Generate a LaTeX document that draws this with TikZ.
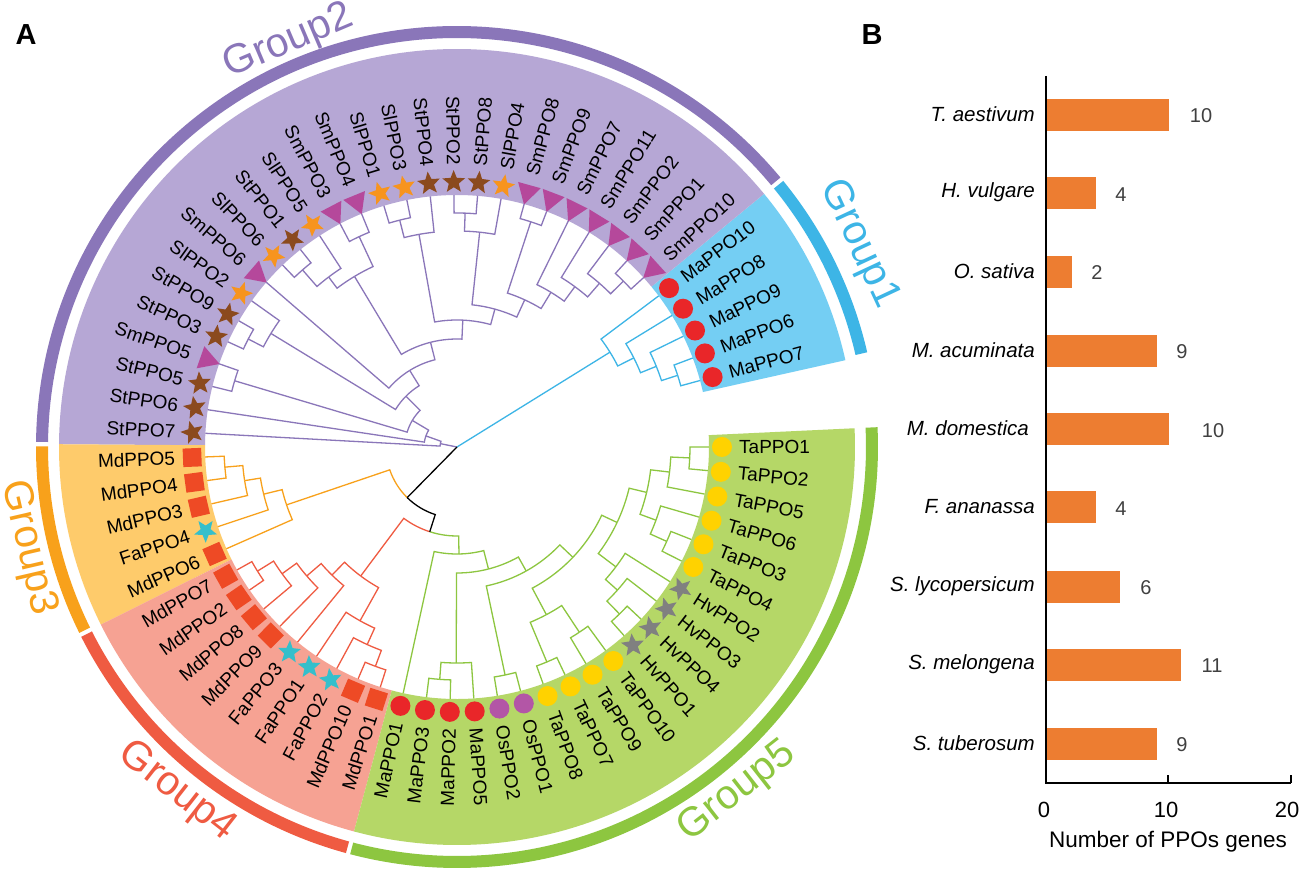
\documentclass[tikz,border=0pt]{standalone}
\usepackage{fontspec}
\newfontfamily\arl{Liberation Sans}
\usetikzlibrary{shapes.geometric}
\definecolor{cPur}{HTML}{8A76B9}
\definecolor{cBlu}{HTML}{3DB5E6}
\definecolor{cOra}{HTML}{F8A11B}
\definecolor{cRed}{HTML}{EF5B42}
\definecolor{cGrn}{HTML}{8DC640}
\definecolor{sPur}{HTML}{B6A7D5}
\definecolor{sBlu}{HTML}{74CEF3}
\definecolor{sOra}{HTML}{FECB6B}
\definecolor{sRed}{HTML}{F6A293}
\definecolor{sGrn}{HTML}{B5D767}
\definecolor{mRed}{HTML}{E92629}
\definecolor{mMag}{HTML}{B5489B}
\definecolor{mBrn}{HTML}{8B4A1E}
\definecolor{mOrS}{HTML}{F7941E}
\definecolor{mSq}{HTML}{EE4A25}
\definecolor{mCya}{HTML}{35BFCB}
\definecolor{mOsP}{HTML}{B356A6}
\definecolor{mYel}{HTML}{FFD200}
\definecolor{mGry}{HTML}{808080}
\definecolor{barO}{HTML}{ED7D31}
\definecolor{valG}{HTML}{404040}
\tikzset{
  br/.style={line width=1.3pt},
  lbl/.style={font=\arl\fontsize{19}{19}\selectfont, inner sep=0pt, text=black},
  mk/.style={inner sep=0pt, draw=none},
  cR/.style={mk, circle, fill=mRed, minimum size=20pt},
  cP/.style={mk, circle, fill=mOsP, minimum size=20pt},
  cY/.style={mk, circle, fill=mYel, minimum size=20pt},
  sq/.style={mk, rectangle, fill=mSq, minimum size=18.5pt, rotate=\lfang},
  tri/.style={mk, regular polygon, regular polygon sides=3, fill=mMag, minimum size=27pt, rotate=\lfang+90},
  stB/.style={mk, star, star points=5, star point ratio=2.3, fill=mBrn, minimum size=24pt, rotate=\lfang-90},
  stO/.style={stB, fill=mOrS},
  stC/.style={stB, fill=mCya},
  stG/.style={stB, fill=mGry},
  glab/.style={font=\arl\fontsize{41}{41}\selectfont, inner sep=0pt},
  panel/.style={font=\arl\bfseries\fontsize{29}{29}\selectfont, inner sep=0pt},
  axisln/.style={line width=1.8pt, black},
  barn/.style={fill=barO, draw=none, inner sep=0pt, minimum height=32pt, anchor=west},
  valn/.style={font=\arl\fontsize{20}{20}\selectfont, text=valG, inner sep=0pt},
  spcn/.style={font=\arl\itshape\fontsize{20.5}{20.5}\selectfont, inner sep=0pt, anchor=east},
  tickn/.style={font=\arl\fontsize{22}{22}\selectfont, inner sep=0pt},
}
\newcommand\tleaf[3]{%
  \pgfmathsetmacro\lfang{15.3+5.386*#2}%
  \expandafter\xdef\csname nA#1\endcsname{\lfang}%
  \expandafter\xdef\csname nR#1\endcsname{252}%
  \coordinate (#1) at (\lfang:252pt);%
  \node[#3] (m#1) at (\lfang:265pt) {};%
  \pgfmathtruncatemacro\lflip{(\lfang>90)*(\lfang<270)}%
  \ifnum\lflip=1
    \node[lbl, anchor=east, rotate=\lfang-180] (t#1) at (\lfang:282pt) {#1};%
  \else
    \node[lbl, anchor=west, rotate=\lfang] (t#1) at (\lfang:282pt) {#1};%
  \fi}
\newcommand\tbr[3]{\draw[br,#1] (#2) arc[start angle=\csname nA#2\endcsname, end angle=\csname nA#3\endcsname, radius=\csname nR#2\endcsname pt] -- (#3);}
\newcommand\tcl[5]{%
  \pgfmathsetmacro\tmpang{(\csname nA#4\endcsname+\csname nA#5\endcsname)/2}%
  \expandafter\xdef\csname nA#1\endcsname{\tmpang}%
  \expandafter\xdef\csname nR#1\endcsname{#2}%
  \coordinate (#1) at (\tmpang:#2pt);%
  \tbr{#3}{#1}{#4}\tbr{#3}{#1}{#5}}
\newcommand\tclx[6]{%
  \pgfmathsetmacro\tmpang{(\csname nA#4\endcsname+\csname nA#6\endcsname)/2}%
  \expandafter\xdef\csname nA#1\endcsname{\tmpang}%
  \expandafter\xdef\csname nR#1\endcsname{#2}%
  \coordinate (#1) at (\tmpang:#2pt);%
  \tbr{#3}{#1}{#4}\tbr{#5}{#1}{#6}}
\newcommand\tsector[3]{\fill[#1] (#2:252pt) arc[start angle=#2, end angle=#3, radius=252pt] -- (#3:398pt) arc[start angle=#3, end angle=#2, radius=398pt] -- cycle;}
\newcommand\tring[3]{\fill[#1] (#2:409pt) arc[start angle=#2, end angle=#3, radius=409pt] -- (#3:421pt) arc[start angle=#3, end angle=#2, radius=421pt] -- cycle;}
\begin{document}
\begin{tikzpicture}[x=1pt,y=1pt]
\path[use as bounding box, fill=white] (-457,-423) rectangle (842,447);
\coordinate (root) at (0,0);
% sectors
\tsector{sBlu}{12.6}{39.5}
\tsector{sPur}{39.5}{179.6}
\tsector{sOra}{179.6}{206.5}
\tsector{sRed}{206.5}{255.0}
\tsector{sGrn}{255.0}{362.7}
% rings
\tring{cBlu}{13.0}{39.2}
\tring{cPur}{39.8}{179.3}
\tring{cOra}{179.9}{206.2}
\tring{cRed}{206.8}{254.7}
\tring{cGrn}{255.3}{362.7}
% group labels
\node[glab, text=cBlu, rotate=-65] (lg1) at (402,203) {Group1};
\node[glab, text=cPur, rotate=23] (lg2) at (-168,405) {Group2};
\node[glab, text=cOra, rotate=-77] (lg3) at (-429,-101) {Group3};
\node[glab, text=cRed, rotate=-38] (lg4) at (-280,-345) {Group4};
\node[glab, text=cGrn, rotate=38] (lg5) at (280,-345) {Group5};
% leaves
\tleaf{MaPPO7}{0}{cR}
\tleaf{MaPPO6}{1}{cR}
\tleaf{MaPPO9}{2}{cR}
\tleaf{MaPPO8}{3}{cR}
\tleaf{MaPPO10}{4}{cR}
\tleaf{SmPPO10}{5}{tri}
\tleaf{SmPPO1}{6}{tri}
\tleaf{SmPPO2}{7}{tri}
\tleaf{SmPPO11}{8}{tri}
\tleaf{SmPPO7}{9}{tri}
\tleaf{SmPPO9}{10}{tri}
\tleaf{SmPPO8}{11}{tri}
\tleaf{SlPPO4}{12}{stO}
\tleaf{StPPO8}{13}{stB}
\tleaf{StPPO2}{14}{stB}
\tleaf{StPPO4}{15}{stB}
\tleaf{SlPPO3}{16}{stO}
\tleaf{SlPPO1}{17}{stO}
\tleaf{SmPPO4}{18}{tri}
\tleaf{SmPPO3}{19}{tri}
\tleaf{SlPPO5}{20}{stO}
\tleaf{StPPO1}{21}{stB}
\tleaf{SlPPO6}{22}{stO}
\tleaf{SmPPO6}{23}{tri}
\tleaf{SlPPO2}{24}{stO}
\tleaf{StPPO9}{25}{stB}
\tleaf{StPPO3}{26}{stB}
\tleaf{SmPPO5}{27}{tri}
\tleaf{StPPO5}{28}{stB}
\tleaf{StPPO6}{29}{stB}
\tleaf{StPPO7}{30}{stB}
\tleaf{MdPPO5}{31}{sq}
\tleaf{MdPPO4}{32}{sq}
\tleaf{MdPPO3}{33}{sq}
\tleaf{FaPPO4}{34}{stC}
\tleaf{MdPPO6}{35}{sq}
\tleaf{MdPPO7}{36}{sq}
\tleaf{MdPPO2}{37}{sq}
\tleaf{MdPPO8}{38}{sq}
\tleaf{MdPPO9}{39}{sq}
\tleaf{FaPPO3}{40}{stC}
\tleaf{FaPPO1}{41}{stC}
\tleaf{FaPPO2}{42}{stC}
\tleaf{MdPPO10}{43}{sq}
\tleaf{MdPPO1}{44}{sq}
\tleaf{MaPPO1}{45}{cR}
\tleaf{MaPPO3}{46}{cR}
\tleaf{MaPPO2}{47}{cR}
\tleaf{MaPPO5}{48}{cR}
\tleaf{OsPPO2}{49}{cP}
\tleaf{OsPPO1}{50}{cP}
\tleaf{TaPPO8}{51}{cY}
\tleaf{TaPPO7}{52}{cY}
\tleaf{TaPPO9}{53}{cY}
\tleaf{TaPPO10}{54}{cY}
\tleaf{HvPPO1}{55}{stG}
\tleaf{HvPPO4}{56}{stG}
\tleaf{HvPPO3}{57}{stG}
\tleaf{HvPPO2}{58}{stG}
\tleaf{TaPPO4}{59}{cY}
\tleaf{TaPPO3}{60}{cY}
\tleaf{TaPPO6}{61}{cY}
\tleaf{TaPPO5}{62}{cY}
\tleaf{TaPPO2}{63}{cY}
\tleaf{TaPPO1}{64}{cY}
% Group1
\tcl{G1d}{232}{cBlu}{MaPPO7}{MaPPO6}
\tcl{G1c}{215}{cBlu}{G1d}{MaPPO9}
\tcl{G1b}{198}{cBlu}{G1c}{MaPPO8}
\tcl{G1}{180}{cBlu}{G1b}{MaPPO10}
% Group2
\tcl{sa}{235}{cPur}{SmPPO10}{SmPPO1}
\tcl{sb}{217}{cPur}{sa}{SmPPO2}
\tcl{sc}{199}{cPur}{sb}{SmPPO11}
\tcl{sd}{181}{cPur}{sc}{SmPPO7}
\tcl{se}{237}{cPur}{SmPPO9}{SmPPO8}
\tcl{Bt}{162}{cPur}{sd}{se}
\tcl{b1}{234}{cPur}{StPPO8}{StPPO2}
\tcl{B1}{216}{cPur}{SlPPO4}{b1}
\tcl{B}{143}{cPur}{Bt}{B1}
\tcl{a1}{234}{cPur}{SlPPO3}{SlPPO1}
\tcl{A}{216}{cPur}{StPPO4}{a1}
\tcl{Y}{127}{cPur}{B}{A}
\tcl{Q2}{232}{cPur}{SmPPO4}{SmPPO3}
\tcl{q1x}{235}{cPur}{StPPO1}{SlPPO6}
\tcl{Q1}{213}{cPur}{SlPPO5}{q1x}
\tcl{Q}{199}{cPur}{Q2}{Q1}
\tcl{S5}{108}{cPur}{Y}{Q}
\tcl{S4}{90}{cPur}{S5}{SmPPO6}
\tcl{z1}{235}{cPur}{StPPO9}{StPPO3}
\tcl{Z}{218}{cPur}{SlPPO2}{z1}
\tcl{S3}{72}{cPur}{S4}{Z}
\tcl{C55}{232}{cPur}{SmPPO5}{StPPO5}
\tcl{S2}{52}{cPur}{S3}{C55}
\tcl{S1}{33}{cPur}{S2}{StPPO6}
\tcl{S0}{17}{cPur}{S1}{StPPO7}
% Group3
\tcl{g1}{233}{cOra}{MdPPO5}{MdPPO4}
\tcl{g2}{215}{cOra}{g1}{MdPPO3}
\tcl{g3}{199}{cOra}{g2}{FaPPO4}
\tcl{G3}{180}{cOra}{g3}{MdPPO6}
% Group4
\tcl{p1}{235}{cRed}{MdPPO7}{MdPPO2}
\tcl{p2}{216}{cRed}{p1}{MdPPO8}
\tcl{p3}{198}{cRed}{p2}{MdPPO9}
\tcl{p4}{179}{cRed}{p3}{FaPPO3}
\tcl{q1}{234}{cRed}{MdPPO10}{MdPPO1}
\tcl{q2}{217}{cRed}{FaPPO2}{q1}
\tcl{q3}{199}{cRed}{FaPPO1}{q2}
\tcl{G4}{161}{cRed}{p4}{q3}
% Group5
\tcl{m1}{233}{cGrn}{MaPPO3}{MaPPO2}
\tcl{Mm}{216}{cGrn}{m1}{MaPPO5}
\tcl{Os}{233}{cGrn}{OsPPO2}{OsPPO1}
\tcl{t1}{233}{cGrn}{TaPPO8}{TaPPO7}
\tcl{t2}{222}{cGrn}{TaPPO9}{TaPPO10}
\tcl{TaG}{190}{cGrn}{t1}{t2}
\tcl{h1}{233}{cGrn}{HvPPO1}{HvPPO4}
\tcl{h2}{215}{cGrn}{h1}{HvPPO3}
\tcl{Hv}{199}{cGrn}{h2}{HvPPO2}
\tcl{t43}{230}{cGrn}{TaPPO4}{TaPPO3}
\tcl{T6}{212}{cGrn}{t43}{TaPPO6}
\tcl{t21}{233}{cGrn}{TaPPO2}{TaPPO1}
\tcl{T5}{214}{cGrn}{TaPPO5}{t21}
\tcl{T7}{195}{cGrn}{T6}{T5}
\tcl{W}{177}{cGrn}{Hv}{T7}
\tcl{V}{160}{cGrn}{TaG}{W}
\tcl{T}{142}{cGrn}{Os}{V}
\tcl{G5b}{126}{cGrn}{Mm}{T}
\tcl{G5}{107}{cGrn}{MaPPO1}{G5b}
% backbone
\tclx{K2}{89}{cRed}{G4}{cGrn}{G5}
\tclx{K1}{71}{cOra}{G3}{black}{K2}
\draw[br,cPur] (root) -- (S0);
\draw[br,cBlu] (root) -- (G1);
\draw[br,black] (root) -- (K1);
% panel letters
\node[panel] (pA) at (-431,412) {A};
\node[panel] (pB) at (415,412) {B};
% bar chart
\coordinate (ytop) at (589,371);
\coordinate (org) at (589,-336);
\coordinate (xend) at (834,-336);
\coordinate (tk10) at (711,-336);
\coordinate (tk10u) at (711,-328);
\coordinate (tk20u) at (834,-328);
\foreach \y/\v/\s/\xl/\sx [count=\i] in {332/10/T. aestivum/744/578, 253.5/4/H. vulgare/664/578, 175/2/O. sativa/640/578, 96/9/M. acuminata/725/578, 17.5/10/M. domestica/756/572, -60.5/4/F. ananassa/664/578, -140/6/S. lycopersicum/689/578, -218/11/S. melongena/755/578, -297/9/S. tuberosum/725/578}{
  \node[barn, minimum width={\v*12.2pt}] (bar\i) at (590,\y) {};
  \node[valn] (val\i) at (\xl,{\y-1}) {\v};
  \node[spcn] (spc\i) at (\sx,{\y+1}) {\s};
}
\draw[axisln] (ytop) -- (org) -- (xend);
\draw[axisln] (tk10) -- (tk10u);
\draw[axisln] (xend) -- (tk20u);
\node[tickn] (n0) at (587,-363) {0};
\node[tickn] (n10) at (709,-363) {10};
\node[tickn] (n20) at (830,-363) {20};
\node[tickn, font=\arl\fontsize{22.5}{22.5}\selectfont] (xtitle) at (711,-395) {Number of PPOs genes};
\end{tikzpicture}
\end{document}
